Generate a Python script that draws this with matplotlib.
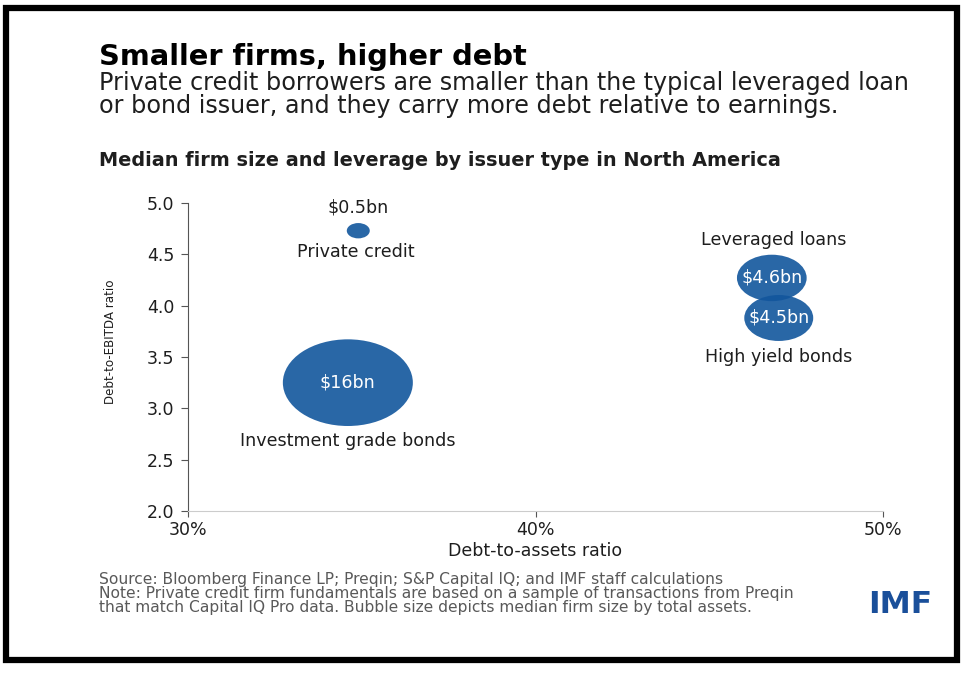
import matplotlib
matplotlib.use("Agg")
import matplotlib.pyplot as plt
from matplotlib.patches import Rectangle
from matplotlib.path import Path
from matplotlib.transforms import Affine2D
from matplotlib.ticker import FuncFormatter

# data
issuers = ["Private credit", "Investment grade bonds", "Leveraged loans", "High yield bonds"]
debt_to_assets = [34.9, 34.6, 46.8, 47.0]      # %
debt_to_ebitda = [4.73, 3.25, 4.27, 3.88]      # ratio
firm_size_bn = [0.5, 16.0, 4.6, 4.5]           # median total assets, $bn
size_labels = ["$0.5bn", "$16bn", "$4.6bn", "$4.5bn"]

BLUE = "#12569d"
TXT = "#1e1e1e"
GREY_TXT = "#595959"
plt.rcParams['font.family'] = ['DejaVu Sans']

W, H = 974, 678
fig = plt.figure(figsize=(W / 100, H / 100), dpi=100)


def fx(px):
    return px / W


def fy(py):
    return 1 - py / H


# black frame around the card
fig.patches.append(Rectangle((fx(6), fy(660)), 951 / W, 652 / H,
                             transform=fig.transFigure, fill=False,
                             edgecolor="black", linewidth=4.5))

fig.text(fx(99), fy(65), "Smaller firms, higher debt",
         fontsize=20.8, fontweight="bold", va="baseline", ha="left", color="black")
fig.text(fx(99), fy(90), "Private credit borrowers are smaller than the typical leveraged loan",
         fontsize=17.2, va="baseline", ha="left", color=TXT)
fig.text(fx(99), fy(113), "or bond issuer, and they carry more debt relative to earnings.",
         fontsize=17.2, va="baseline", ha="left", color=TXT)
fig.text(fx(99), fy(166), "Median firm size and leverage by issuer type in North America",
         fontsize=13.9, fontweight="bold", va="baseline", ha="left", color=TXT)

ax = fig.add_axes([fx(188), fy(511), 695 / W, 308 / H])

# bubbles are a bit wider than tall in the reference
ellipse = Path.unit_circle().transformed(Affine2D().scale(1.5, 1.0))
px_per_pt = 100 / 72
big_width_px = 130
sizes = [((big_width_px * (v / 16.0) ** 0.5) / px_per_pt) ** 2 for v in firm_size_bn]
ax.scatter(debt_to_assets, debt_to_ebitda, s=sizes, marker=ellipse,
           color=BLUE, alpha=0.9, linewidths=0, zorder=3)

LAB = 12.6
lab_font = dict(fontsize=LAB, color=TXT, ha="center", va="center", textcoords="offset points")
in_font = dict(fontsize=LAB, color="white", ha="center", va="center", zorder=4,
               textcoords="offset points")
pts = list(zip(debt_to_assets, debt_to_ebitda))
# private credit: size above, name below
ax.annotate(size_labels[0], pts[0], xytext=(0, 16.5), **lab_font)
ax.annotate(issuers[0], pts[0], xytext=(-2, -15), **lab_font)
# investment grade bonds
ax.annotate(size_labels[1], pts[1], xytext=(0, 0), **in_font)
ax.annotate(issuers[1], pts[1], xytext=(0, -42), **lab_font)
# leveraged loans
ax.annotate(size_labels[2], pts[2], xytext=(0, 0), **in_font)
ax.annotate(issuers[2], pts[2], xytext=(1, 27.5), **lab_font)
# high yield bonds
ax.annotate(size_labels[3], pts[3], xytext=(0, 0), **in_font)
ax.annotate(issuers[3], pts[3], xytext=(0, -28), **lab_font)

ax.set_xlim(30, 50)
ax.set_ylim(2.0, 5.0)
ax.set_xticks([30, 40, 50])
ax.set_yticks([2.0, 2.5, 3.0, 3.5, 4.0, 4.5, 5.0])
ax.xaxis.set_major_formatter(FuncFormatter(lambda v, p: f"{v:.0f}%"))
ax.yaxis.set_major_formatter(FuncFormatter(lambda v, p: f"{v:.1f}"))
for s in ["top", "right"]:
    ax.spines[s].set_visible(False)
ax.spines["left"].set_color("#555555")
ax.spines["bottom"].set_color("#cccccc")
ax.tick_params(axis="y", direction="out", length=5, color="#555555", labelsize=12.5,
               labelcolor=TXT, pad=5)
ax.tick_params(axis="x", direction="out", length=4, color="#555555", labelsize=12.5,
               labelcolor=TXT, pad=3)
ax.set_xlabel("Debt-to-assets ratio", fontsize=12.5, color=TXT, labelpad=2)
ax.set_ylabel("Debt-to-EBITDA ratio", fontsize=8.6, color=TXT)
ax.yaxis.set_label_coords(-(188 - 117) / 695, (511 - 342) / 308)

notes = [
    "Source: Bloomberg Finance LP; Preqin; S&P Capital IQ; and IMF staff calculations",
    "Note: Private credit firm fundamentals are based on a sample of transactions from Preqin",
    "that match Capital IQ Pro data. Bubble size depicts median firm size by total assets.",
]
for i, line in enumerate(notes):
    fig.text(fx(99), fy(584 + 14 * i), line, fontsize=11.2, color=GREY_TXT,
             va="baseline", ha="left")
fig.text(fx(932), fy(613), "IMF", fontsize=22.5, fontweight="bold", color="#1a4f9a",
         va="baseline", ha="right")

fig.savefig("out.png", dpi=100)
